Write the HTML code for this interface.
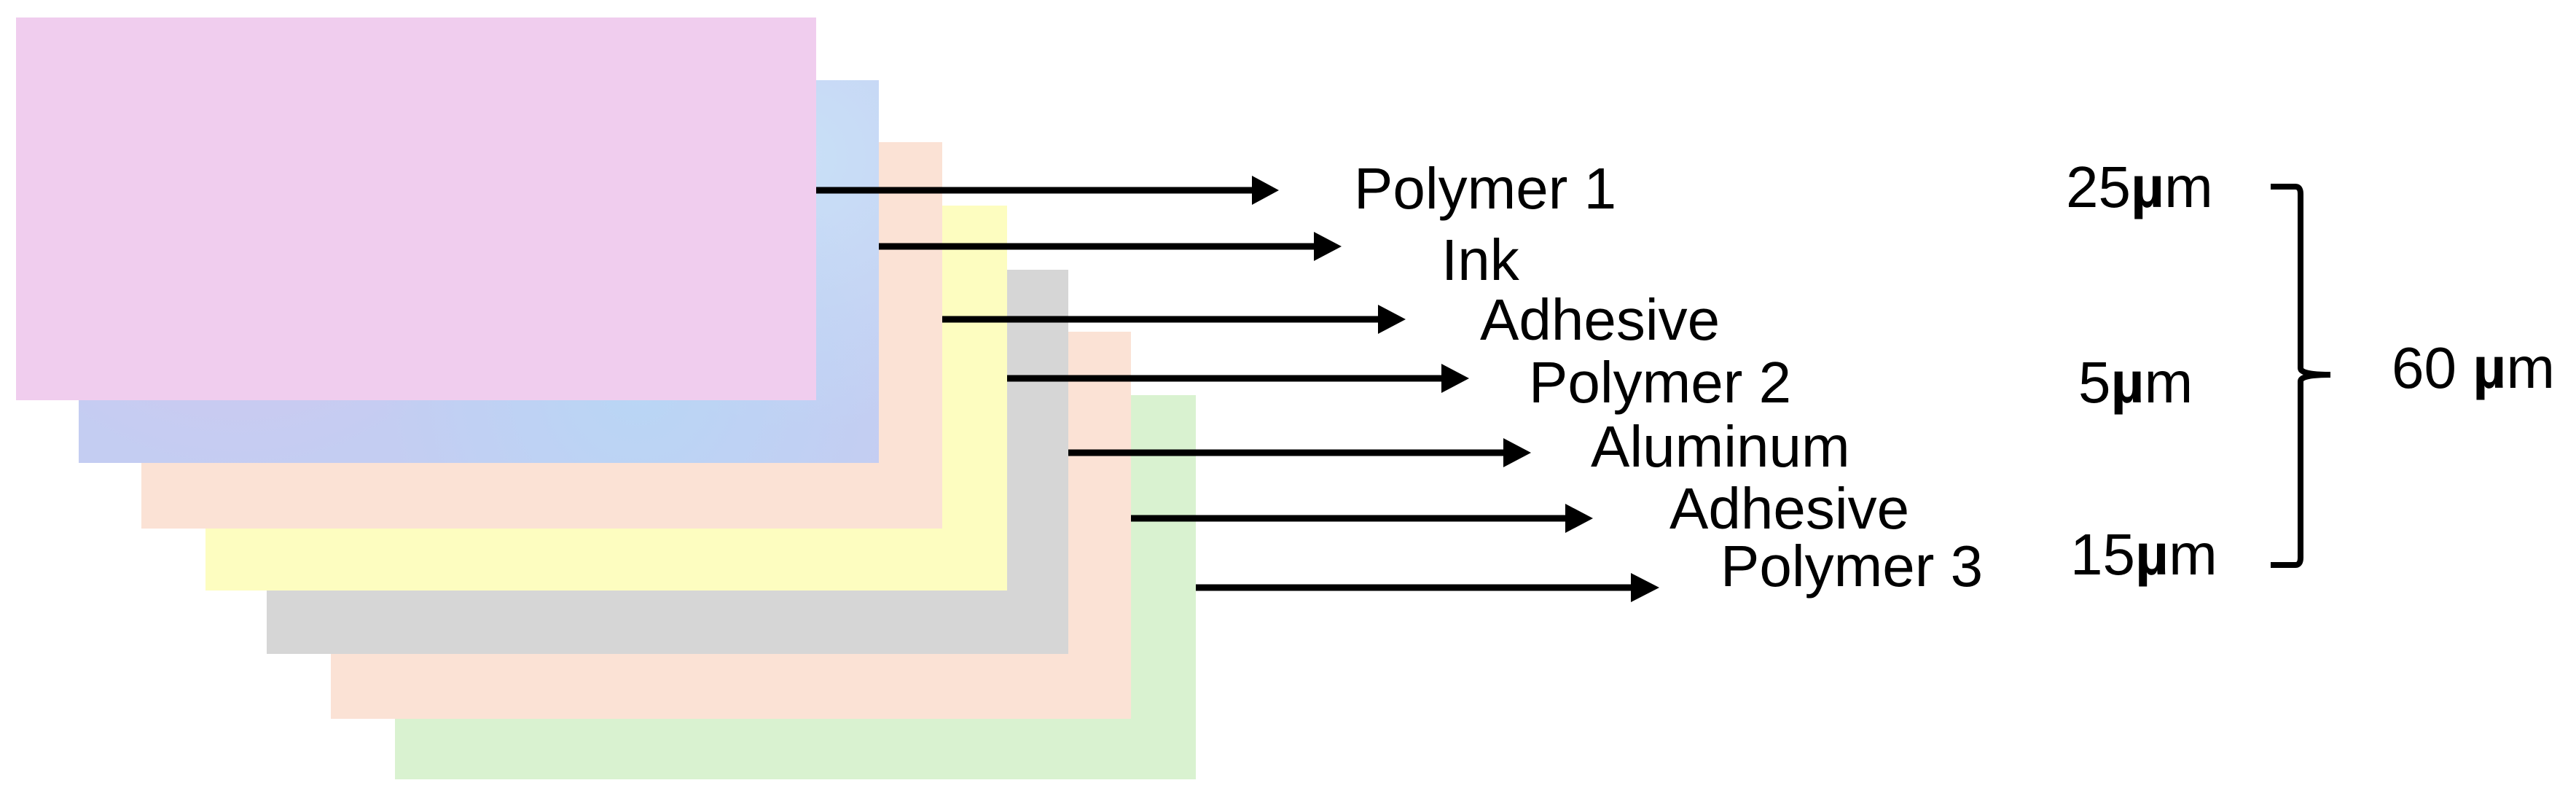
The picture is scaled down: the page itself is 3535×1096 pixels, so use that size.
<!DOCTYPE html>
<html><head><meta charset="utf-8"><style>
html,body{margin:0;padding:0;background:#fff;}
body{width:3535px;height:1096px;position:relative;overflow:hidden;font-family:"Liberation Sans",Arial,sans-serif;}
.r{position:absolute;}
</style></head><body>
<div class="r" style="left:542px;top:542px;width:1099px;height:527px;background:#d9f2d0"></div>
<div class="r" style="left:454px;top:455px;width:1098px;height:531px;background:#fbe2d5"></div>
<div class="r" style="left:366px;top:370px;width:1100px;height:527px;background:#d6d6d6"></div>
<div class="r" style="left:282px;top:282px;width:1100px;height:528px;background:#fdfdc0"></div>
<div class="r" style="left:194px;top:195px;width:1099px;height:530px;background:#fbe2d5"></div>
<div class="r" style="left:108px;top:110px;width:1098px;height:525px;background:#c4cdf2;background-image:radial-gradient(circle at 20% 30%,#d6c4ee 0,transparent 40%),radial-gradient(circle at 70% 80%,#b9d6f5 0,transparent 40%),radial-gradient(circle at 90% 20%,#c9e0f7 0,transparent 35%)"></div>
<div class="r" style="left:22px;top:24px;width:1098px;height:525px;background:#f0cdee"></div>
<svg class="r" style="left:0;top:0" width="3535" height="1096">
<g stroke="#000" stroke-width="9">
<line x1="1120" y1="261" x2="1725" y2="261"/>
<line x1="1206" y1="338" x2="1810" y2="338"/>
<line x1="1293" y1="438" x2="1898" y2="438"/>
<line x1="1382" y1="519" x2="1985" y2="519"/>
<line x1="1466" y1="621" x2="2070" y2="621"/>
<line x1="1552" y1="711" x2="2155" y2="711"/>
<line x1="1641" y1="806" x2="2245" y2="806"/>
</g>
<g fill="#000">
<polygon points="1718,241 1755,261 1718,281"/>
<polygon points="1803,318 1841,338 1803,358"/>
<polygon points="1891,418 1929,438 1891,458"/>
<polygon points="1978,499 2016,519 1978,539"/>
<polygon points="2063,601 2101,621 2063,641"/>
<polygon points="2148,691 2186,711 2148,731"/>
<polygon points="2238,786 2277,806 2238,826"/>
</g>
<path d="M3116,256 H3150 Q3157,256 3157,266 V505 Q3157,514 3198,514 Q3157,514 3157,523 V765 Q3157,775 3150,775 H3116" fill="none" stroke="#000" stroke-width="8"/>
<g font-family="Liberation Sans, Arial, sans-serif" font-size="80" fill="#000">
<text x="1858" y="286">Polymer 1</text>
<text x="1978" y="384">Ink</text>
<text x="2031" y="466">Adhesive</text>
<text x="2098" y="552">Polymer 2</text>
<text x="2183" y="640">Aluminum</text>
<text x="2291" y="725">Adhesive</text>
<text x="2361" y="804">Polymer 3</text>
<text x="2835" y="284">25<tspan font-weight="bold">µ</tspan>m</text>
<text x="2852" y="552">5<tspan font-weight="bold">µ</tspan>m</text>
<text x="2841" y="788">15<tspan font-weight="bold">µ</tspan>m</text>
<text x="3282" y="532">60 <tspan font-weight="bold">µ</tspan>m</text>
</g>
</svg>
</body></html>
